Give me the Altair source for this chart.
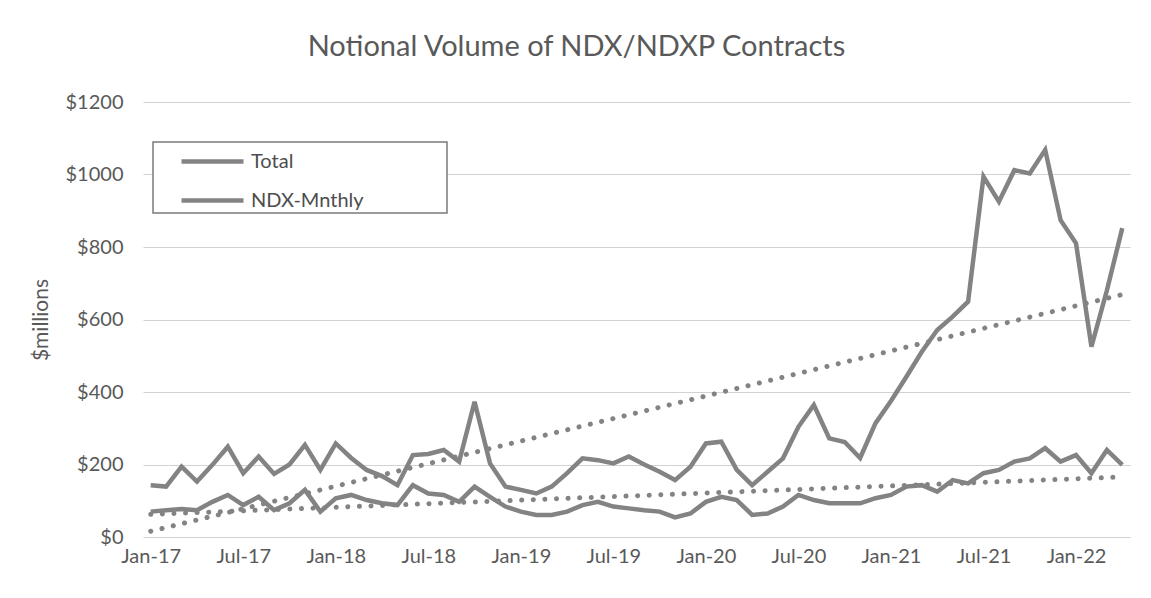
import altair as alt
import pandas as pd

month_names = ["Jan", "Feb", "Mar", "Apr", "May", "Jun", "Jul", "Aug", "Sep", "Oct", "Nov", "Dec"]
years = ["17", "18", "19", "20", "21", "22"]
months = [f"{m}-{y}" for y in years for m in month_names][:64]

series_names = ["Total", "NDX-Mnthly"]

total = [143, 139, 194, 153, 199, 249, 176, 222, 174, 200,
         254, 185, 258, 218, 185, 168, 143, 226, 229, 240,
         208, 373, 203, 139, 130, 120, 139, 176, 217, 212,
         203, 222, 200, 180, 157, 194, 258, 263, 185, 143,
         180, 217, 304, 364, 272, 262, 218, 314, 375, 442,
         511, 571, 608, 649, 994, 925, 1012, 1003, 1068, 874,
         810, 525, 680, 852]

ndx = [70, 74, 77, 74, 97, 116, 88, 111, 74, 93,
       130, 70, 107, 116, 102, 93, 88, 143, 120, 116,
       97, 139, 111, 84, 70, 61, 61, 70, 88, 97,
       84, 79, 74, 70, 54, 65, 97, 111, 102, 61,
       65, 84, 116, 102, 93, 93, 93, 107, 116, 139,
       143, 125, 157, 148, 176, 185, 208, 217, 245, 208,
       226, 176, 240, 199]

y_ticks = [0, 200, 400, 600, 800, 1000, 1200]
x_tick_idx = list(range(0, 64, 6))

rows = []
for i, m in enumerate(months):
    rows.append({"idx": i, "month": m, "series": series_names[0], "value": total[i]})
    rows.append({"idx": i, "month": m, "series": series_names[1], "value": ndx[i]})
df = pd.DataFrame(rows)

FONT = "Lato"
TXT = "#595959"
LINE = "#838383"

label_expr = "[" + ",".join(f"'{m}'" for m in months) + "][datum.value]"

x_enc = alt.X(
    "idx:Q",
    scale=alt.Scale(domain=[-0.5, 63.5], nice=False, zero=False),
    axis=alt.Axis(values=x_tick_idx, labelExpr=label_expr, grid=False, ticks=False,
                  domain=False, labelPadding=9, labelFontSize=20, labelColor=TXT,
                  labelFont=FONT, labelFlush=False, title=None),
)
y_enc = alt.Y(
    "value:Q",
    scale=alt.Scale(domain=[0, 1200], nice=False),
    axis=alt.Axis(values=y_ticks, labelExpr="'$' + datum.value", ticks=False, domain=False,
                  grid=True, gridColor="#d2d2d2", gridWidth=1, labelPadding=20,
                  labelFontSize=20, labelColor=TXT, labelFont=FONT,
                  title="$millions", titleFontSize=21, titleFontWeight="normal",
                  titleColor=TXT, titleFont=FONT, titlePadding=14),
)

color_enc = alt.Color(
    "series:N",
    scale=alt.Scale(domain=series_names, range=[LINE, LINE]),
    legend=alt.Legend(title=None, orient="none", legendX=57, legendY=47,
                      symbolType="M-3.1,0H3.1", symbolSize=400, symbolStrokeWidth=4.5,
                      labelOffset=26, rowPadding=16, padding=0,
                      labelFontSize=20, labelFont=FONT, labelColor="#4d4d4d"),
)

frame = alt.Chart(alt.Data(values=[{"a": 1}])).mark_rect(
    fill="white", stroke="#7a7a7a", strokeWidth=1.5
).encode(x=alt.value(10), x2=alt.value(304), y=alt.value(40), y2=alt.value(111))

lines = alt.Chart(df).mark_line(strokeWidth=4.5).encode(
    x=x_enc, y=y_enc, color=color_enc
)

trend = alt.Chart(df).transform_regression(
    "idx", "value", groupby=["series"], method="linear"
).mark_line(strokeWidth=5, strokeDash=[0.1, 11.5], strokeCap="round", color=LINE).encode(
    x="idx:Q", y="value:Q", detail="series:N"
)

chart = alt.layer(frame, lines, trend).properties(
    width=987, height=435,
    title=alt.TitleParams("Notional Volume of NDX/NDXP Contracts", fontSize=29, font=FONT,
                          fontWeight="normal", color=TXT, anchor="middle", frame="group",
                          dx=-60, offset=30),
    autosize=alt.AutoSizeParams(type="none"),
    padding={"left": 135, "top": 94, "right": 13, "bottom": 53},
).configure_view(stroke=None)

chart.save("out.html", embed_options={"renderer": "svg", "actions": False})
